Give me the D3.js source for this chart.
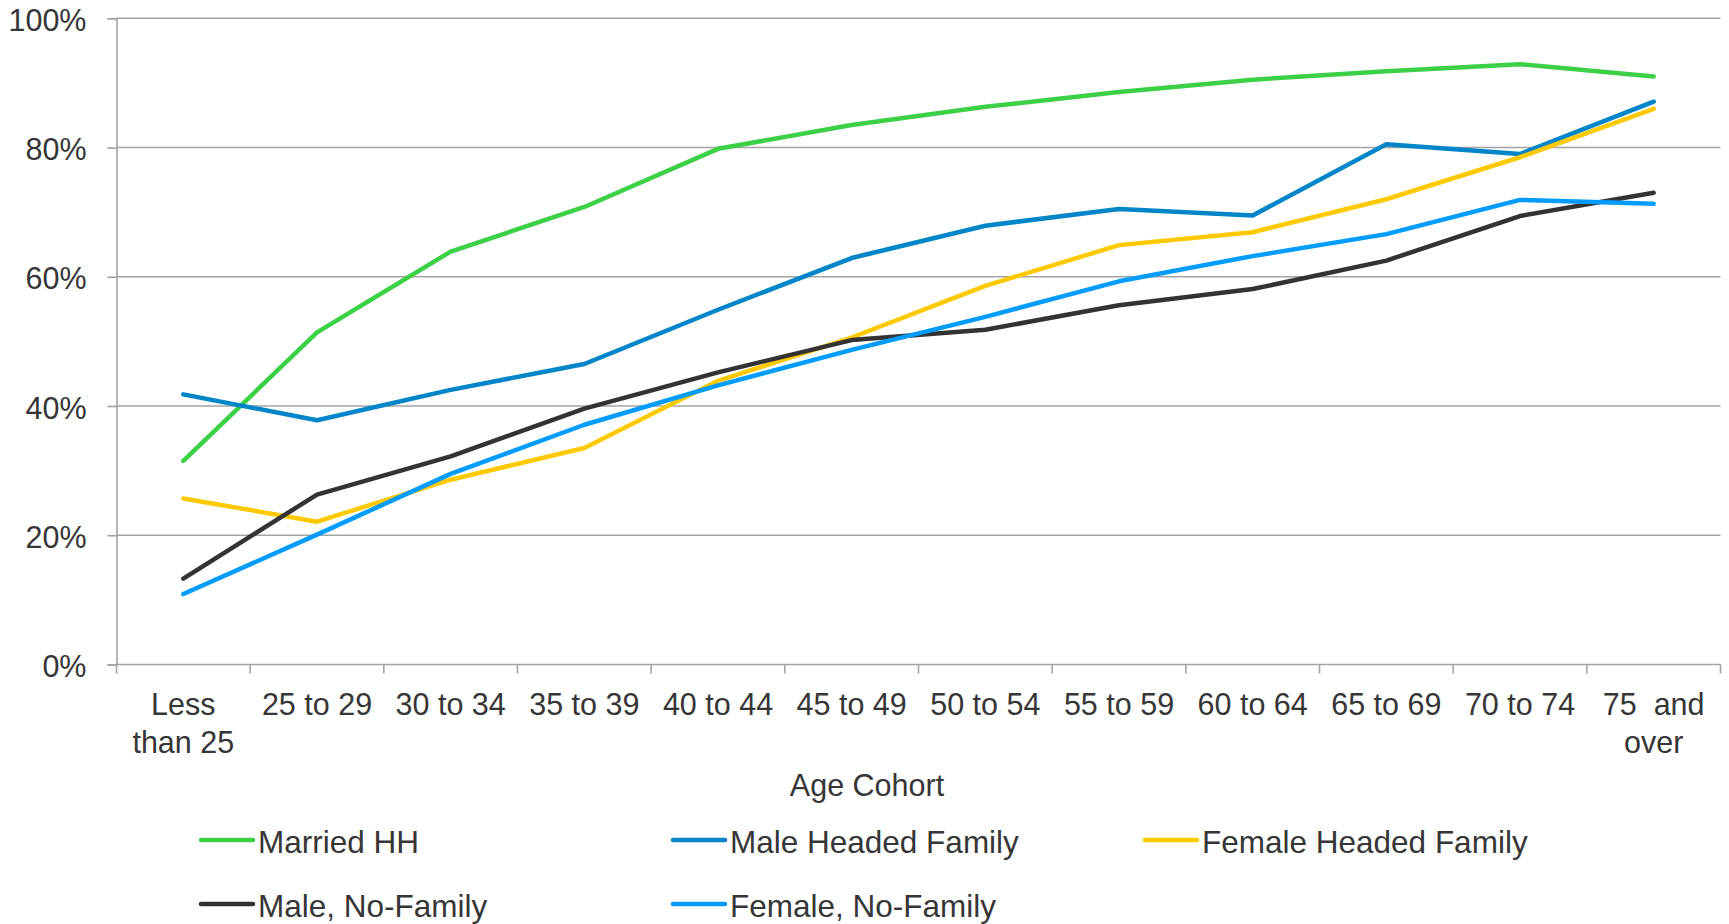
<!DOCTYPE html>
<html>
<head>
<meta charset="utf-8">
<script src="https://cdn.jsdelivr.net/npm/d3@7"></script>
<style>
  html, body { margin: 0; padding: 0; background: #fff; }
  svg { display: block; }
  text { font-family: "Liberation Sans", Arial, sans-serif; fill: #363636; }
</style>
</head>
<body>
<svg id="chart" width="1729" height="924"></svg>
<script>
// Age cohorts along the x axis
const categories = ["Less than 25", "25 to 29", "30 to 34", "35 to 39", "40 to 44", "45 to 49",
  "50 to 54", "55 to 59", "60 to 64", "65 to 69", "70 to 74", "75  and over"];
// Tick label lines for each cohort
const tickLines = [["Less", "than 25"], ["25 to 29"], ["30 to 34"], ["35 to 39"], ["40 to 44"],
  ["45 to 49"], ["50 to 54"], ["55 to 59"], ["60 to 64"], ["65 to 69"], ["70 to 74"], ["75  and", "over"]];

// Share (%) by household type
const marriedHH        = [31.5, 51.4, 63.9, 70.8, 79.8, 83.5, 86.3, 88.6, 90.5, 91.8, 92.9, 91.0];
const maleHeaded       = [41.8, 37.8, 42.5, 46.5, 54.9, 62.9, 67.9, 70.5, 69.5, 80.5, 79.0, 87.1];
const femaleHeaded     = [25.7, 22.1, 28.6, 33.5, 43.9, 50.6, 58.6, 64.9, 66.9, 72.0, 78.5, 86.0];
const maleNoFamily     = [13.3, 26.3, 32.2, 39.6, 45.2, 50.2, 51.8, 55.6, 58.1, 62.5, 69.4, 73.0];
const femaleNoFamily   = [10.9, 20.1, 29.5, 37.1, 43.2, 48.7, 53.8, 59.3, 63.2, 66.6, 71.9, 71.3];

const seriesNames = ["Married HH", "Male Headed Family", "Female Headed Family", "Male, No-Family", "Female, No-Family"];
const yTicks = [0, 20, 40, 60, 80, 100];
const xTitle = "Age Cohort";

const seriesValues = [marriedHH, maleHeaded, femaleHeaded, maleNoFamily, femaleNoFamily];
const colors = ["#3cd046", "#0085c9", "#ffc900", "#333333", "#009cff"];

const svg = d3.select("#chart");
const plotLeft = 116.5, plotRight = 1720.5, plotTop = 18.3, plotBottom = 664.5;

const xBand = d3.scaleBand().domain(categories).range([plotLeft, plotRight]);
const x = d3.scalePoint().domain(categories).range([plotLeft, plotRight]).padding(0.5);
const y = d3.scaleLinear().domain([0, 100]).range([plotBottom, plotTop]);

const gridColor = "#a3a3a3";

// Horizontal gridlines
svg.append("g")
  .selectAll("line")
  .data(yTicks.filter(d => d > 0))
  .join("line")
  .attr("x1", plotLeft).attr("x2", plotRight)
  .attr("y1", d => y(d)).attr("y2", d => y(d))
  .attr("stroke", gridColor).attr("stroke-width", 1.6);

// Y axis
const yAxis = svg.append("g")
  .attr("transform", `translate(${plotLeft},0)`)
  .call(d3.axisLeft(y).tickValues(yTicks).tickSize(9).tickPadding(21).tickFormat(d => d + "%"));
yAxis.select(".domain").attr("stroke", gridColor).attr("stroke-width", 1.6);
yAxis.selectAll(".tick line").attr("stroke", gridColor).attr("stroke-width", 1.6);
yAxis.selectAll(".tick text")
  .attr("font-size", 30.5).attr("fill", "#363636")
  .attr("font-family", "'Liberation Sans', Arial, sans-serif")
  .attr("dy", "0.4em");

// X axis with ticks at band boundaries
const xAxis = svg.append("g")
  .attr("transform", `translate(0,${plotBottom})`);
xAxis.append("line")
  .attr("x1", plotLeft).attr("x2", plotRight).attr("y1", 0).attr("y2", 0)
  .attr("stroke", gridColor).attr("stroke-width", 1.6);
const boundaries = categories.map(c => xBand(c)).concat([plotRight]);
xAxis.selectAll("line.tick")
  .data(boundaries)
  .join("line")
  .attr("class", "tick")
  .attr("x1", d => d).attr("x2", d => d)
  .attr("y1", 0).attr("y2", 9)
  .attr("stroke", gridColor).attr("stroke-width", 1.6);

const labels = xAxis.selectAll("text.cat")
  .data(categories)
  .join("text")
  .attr("class", "cat")
  .attr("text-anchor", "middle")
  .attr("font-size", 30.5)
  .attr("x", d => x(d))
  .attr("y", 50.5);
labels.each(function (d, i) {
  d3.select(this).selectAll("tspan")
    .data(tickLines[i])
    .join("tspan")
    .attr("x", x(d))
    .attr("dy", (t, j) => j === 0 ? 0 : 38)
    .style("white-space", "pre")
    .text(t => t);
});

// Axis title
svg.append("text")
  .attr("x", 867).attr("y", 796)
  .attr("text-anchor", "middle")
  .attr("font-size", 30.5)
  .text(xTitle);

// Series lines
const line = d3.line()
  .x((d, i) => x(categories[i]))
  .y(d => y(d));

svg.append("g")
  .selectAll("path")
  .data(seriesValues)
  .join("path")
  .attr("d", d => line(d))
  .attr("fill", "none")
  .attr("stroke", (d, i) => colors[i])
  .attr("stroke-width", 4.5)
  .attr("stroke-linejoin", "round")
  .attr("stroke-linecap", "round");

// Legend: three columns, two rows
const legend = svg.append("g");
const colX = [200, 672, 1144];
const rowY = [853, 917];
seriesNames.forEach((name, i) => {
  const gx = colX[i % 3], gy = rowY[Math.floor(i / 3)];
  legend.append("line")
    .attr("x1", gx + 1).attr("x2", gx + 53)
    .attr("y1", gy - 13).attr("y2", gy - 13)
    .attr("stroke", colors[i]).attr("stroke-width", 4.5)
    .attr("stroke-linecap", "round");
  legend.append("text")
    .attr("x", gx + 58).attr("y", gy)
    .attr("font-size", 31.5)
    .text(name);
});
</script>
</body>
</html>
